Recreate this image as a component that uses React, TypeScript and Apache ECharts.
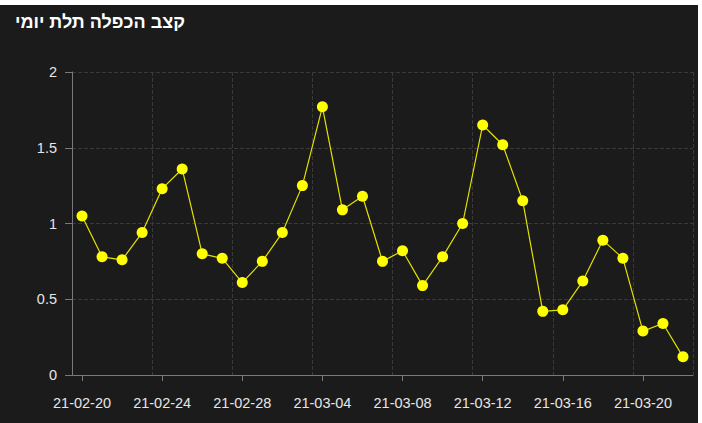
import React, { useEffect, useRef } from "react";
import * as echarts from "echarts";

const TITLE = "קצב הכפלה תלת יומי";

const dates = [
  "21-02-20", "21-02-21", "21-02-22", "21-02-23", "21-02-24", "21-02-25", "21-02-26",
  "21-02-27", "21-02-28", "21-03-01", "21-03-02", "21-03-03", "21-03-04", "21-03-05",
  "21-03-06", "21-03-07", "21-03-08", "21-03-09", "21-03-10", "21-03-11", "21-03-12",
  "21-03-13", "21-03-14", "21-03-15", "21-03-16", "21-03-17", "21-03-18", "21-03-19",
  "21-03-20", "21-03-21", "21-03-22",
];

const values = [
  1.05, 0.78, 0.76, 0.94, 1.23, 1.36, 0.8, 0.77, 0.61, 0.75, 0.94, 1.25, 1.77, 1.09,
  1.18, 0.75, 0.82, 0.59, 0.78, 1.0, 1.65, 1.52, 1.15, 0.42, 0.43, 0.62, 0.89, 0.77,
  0.29, 0.34, 0.12,
];

const FONT = "'Liberation Sans', 'DejaVu Sans', sans-serif";

export default function App() {
  const ref = useRef<HTMLDivElement>(null);
  useEffect(() => {
    if (!ref.current) return;
    const chart = echarts.init(ref.current, null, { renderer: "svg" });
    chart.setOption({
      animation: false,
      backgroundColor: "#1b1b1b",
      title: {
        text: TITLE,
        left: 10,
        top: 3,
        textStyle: { color: "#ffffff", fontSize: 18, fontWeight: "bold", fontFamily: FONT },
      },
      grid: { left: 72, top: 67, right: 5, bottom: 48, containLabel: false },
      xAxis: {
        type: "category",
        data: dates,
        boundaryGap: true,
        axisLine: { show: true, lineStyle: { color: "#7a7a7a", width: 1 } },
        axisTick: { show: true, alignWithLabel: true, interval: 3, length: 6, lineStyle: { color: "#7a7a7a" } },
        axisLabel: { interval: 3, color: "#e6e6e6", fontSize: 14.5, margin: 20, fontFamily: FONT },
        splitLine: { show: true, interval: 3, lineStyle: { color: "#3a3a3a", type: "dashed" } },
      },
      yAxis: {
        type: "value",
        min: 0,
        max: 2,
        interval: 0.5,
        axisLine: { show: true, lineStyle: { color: "#7a7a7a", width: 1 } },
        axisTick: { show: true, length: 7, lineStyle: { color: "#7a7a7a" } },
        axisLabel: { color: "#e6e6e6", fontSize: 14.5, margin: 15, fontFamily: FONT },
        splitLine: { show: true, lineStyle: { color: "#3a3a3a", type: "dashed" } },
      },
      series: [
        {
          type: "line",
          data: values,
          symbol: "circle",
          symbolSize: 11,
          itemStyle: { color: "#ffff00" },
          lineStyle: { color: "#e2e200", width: 1.2 },
        },
      ],
    });
    return () => chart.dispose();
  }, []);
  return (
    <div
      ref={ref}
      style={{ position: "fixed", left: 0, top: 5, width: 698, height: 418 }}
    />
  );
}
